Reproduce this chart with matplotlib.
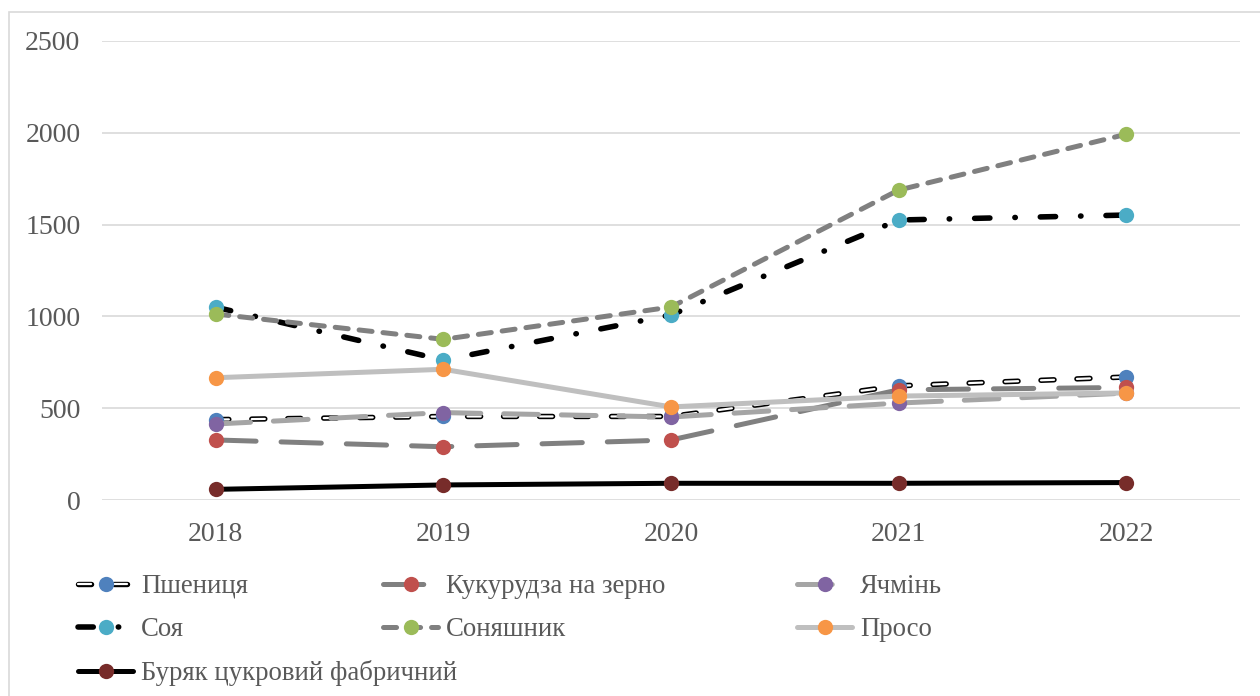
import matplotlib
matplotlib.use("Agg")
import matplotlib.pyplot as plt
from matplotlib.patches import Rectangle

plt.rcParams['font.family'] = ['Liberation Serif', 'DejaVu Serif']
plt.rcParams['lines.scale_dashes'] = False

years = ['2018', '2019', '2020', '2021', '2022']
wheat = [438, 455, 455, 622, 670]
corn = [327, 290, 327, 600, 613]
barley = [414, 476, 452, 528, 582]
soy = [1050, 762, 1008, 1525, 1552]
sunflower = [1013, 875, 1051, 1688, 1992]
millet = [666, 712, 507, 566, 583]
sugarbeet = [58, 82, 91, 91, 95]

labels = ['Пшениця', 'Кукурудза на зерно', 'Ячмінь', 'Соя', 'Соняшник',
          'Просо', 'Буряк цукровий фабричний']
y_ticks = [0, 500, 1000, 1500, 2000, 2500]

W, H = 1260, 696
fig = plt.figure(figsize=(W / 100, H / 100), dpi=100)
fig.patches.append(Rectangle((9 / W, -0.05), 1.1, 1 - 12 / H + 0.05,
                             transform=fig.transFigure, fill=False,
                             edgecolor='#d9d9d9', linewidth=1.2))

ax = fig.add_axes([102 / W, 1 - 500 / H, (1240 - 102) / W, (500 - 41) / H])
x = list(range(len(years)))

LW = 3.6
MS = 11
common = dict(marker='o', markersize=MS, markeredgewidth=0,
              dash_capstyle='round', solid_capstyle='round')

# Пшениця: white dashes with black outline
l_wheat_out, = ax.plot(x, wheat, color='black', linewidth=3.9,
                       dashes=(9.4, 16.5), dash_capstyle='round')
l_wheat, = ax.plot(x, wheat, color='white', linewidth=1.6,
                   dashes=(9.4, 16.5), markerfacecolor='#4f81bd', **common)

l_corn, = ax.plot(x, corn, color='#808080', linewidth=LW, dashes=(29, 18),
                  markerfacecolor='#c0504d', **common)
l_barley, = ax.plot(x, barley, color='#a5a5a5', linewidth=LW, dashes=(25, 16.5),
                    markerfacecolor='#8064a2', **common)
l_soy, = ax.plot(x, soy, color='black', linewidth=4.0, dashes=(11, 18, 0.3, 18),
                 markerfacecolor='#4bacc6', **common)
l_sun, = ax.plot(x, sunflower, color='#808080', linewidth=LW, dashes=(9.4, 7.9),
                 markerfacecolor='#9bbb59', **common)
l_millet, = ax.plot(x, millet, color='#bfbfbf', linewidth=LW,
                    markerfacecolor='#f79646', **common)
l_beet, = ax.plot(x, sugarbeet, color='black', linewidth=LW,
                  markerfacecolor='#772c2a', **common)

ax.set_xlim(-0.5, len(years) - 0.5)
ax.set_ylim(0, 2500)
ax.set_yticks(y_ticks)
ax.set_yticklabels([str(v) for v in y_ticks])
ax.set_xticks(x)
ax.set_xticklabels(years)
ax.grid(axis='y', color='#d9d9d9', linewidth=1.2)
ax.set_axisbelow(True)
for s in ax.spines.values():
    s.set_visible(False)
ax.tick_params(axis='both', length=0, labelsize=20, labelcolor='#595959')
ax.tick_params(axis='y', pad=15.5)
ax.tick_params(axis='x', pad=15.5)

leg_kw = dict(frameon=False, fontsize=19.3, handlelength=2.07, handletextpad=0.29,
              borderpad=0, borderaxespad=0, labelspacing=0.68, loc='upper left',
              labelcolor='#595959')
fig.legend([(l_wheat_out, l_wheat), l_soy, l_beet], [labels[0], labels[3], labels[6]],
           bbox_to_anchor=(78 / W, 1 - 574 / H), **leg_kw)
fig.legend([l_corn, l_sun], [labels[1], labels[4]],
           bbox_to_anchor=(383 / W, 1 - 574 / H), **leg_kw)
fig.legend([l_barley, l_millet], [labels[2], labels[5]],
           bbox_to_anchor=(797 / W, 1 - 574 / H), **leg_kw)

fig.savefig('out.png', dpi=100)
